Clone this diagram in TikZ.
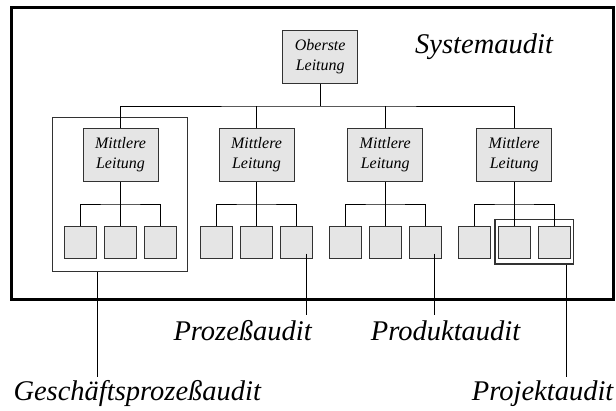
\documentclass[tikz,border=0pt]{standalone}
\usepackage{fontspec}
\setmainfont{Liberation Serif}
\begin{document}
\definecolor{boxfill}{RGB}{229,229,229}
\definecolor{boxline}{RGB}{50,50,50}
\begin{tikzpicture}[x=1pt,y=-1pt,
  unit/.style={draw=boxline, fill=boxfill, line width=1pt, inner sep=0pt},
  leader/.style={unit, minimum width=75pt, minimum height=53pt, align=center,
    font=\fontsize{16}{20}\selectfont\itshape},
  member/.style={unit, minimum width=32pt, minimum height=32pt},
  groupframe/.style={draw=boxline, line width=1.3pt, inner sep=0pt},
  wire/.style={draw=black, line width=0.9pt},
  audit/.style={anchor=base west, inner sep=0pt, font=\fontsize{28.5}{34}\selectfont\itshape}]
\useasboundingbox (0,0) rectangle (616,410);

% outer frame of the system audit
\draw[line width=3pt] (11.5,7.5) rectangle (613.5,299.5);
\node[audit] (sys) at (415,53.3) {Systemaudit};

% frames marking business-process and project audits
\node[groupframe, minimum width=135pt, minimum height=154pt] (g1) at (120.25,194.4) {};
\node[groupframe, minimum width=78.5pt, minimum height=44.7pt] (g4) at (534.25,241.65) {};

% top management
\node[leader] (top) at (320.2,57) {Oberste\\Leitung};

% middle management
\foreach \i/\cx in {1/120.5, 2/256.5, 3/385.2, 4/514.2} {
  \node[leader] (m\i) at (\cx,155) {Mittlere\\Leitung};
  \node[member] (b\i1) at (\cx-40,242.5) {};
  \node[member] (b\i2) at (\cx,242.5) {};
  \node[member] (b\i3) at (\cx+40,242.5) {};
  \coordinate (s\i) at (\cx,204);
  \draw[wire] (m\i.south) -- (s\i);
  \draw[wire] (b\i1.north) |- (s\i) -| (b\i3.north);
  \draw[wire] (s\i) -- (b\i2.north);
}

% bus from top management to middle management
\coordinate (bus) at (320.2,106);
\draw[wire] (top.south) -- (bus);
\draw[wire] (m1.north) |- (bus) -| (m4.north);
\draw[wire] (m2.north) -- (m2.north |- bus);
\draw[wire] (m3.north) -- (m3.north |- bus);

% audit labels and their leader lines
\node[audit] (lg) at (13.3,400) {Geschäftsprozeßaudit};
\node[audit] (lp) at (173.3,340) {Prozeßaudit};
\node[audit] (ld) at (370.7,340) {Produktaudit};
\node[audit] (lj) at (471.7,400) {Projektaudit};

\coordinate (eg) at (97.5,377);
\coordinate (ep) at (306,315);
\coordinate (ed) at (434.5,315);
\coordinate (ej) at (566.7,377);

\draw[wire] (g1.south -| eg) -- (eg);
\draw[wire] ([yshift=5.3pt]b23.south -| ep) -- (ep);
\draw[wire] ([yshift=5.3pt]b33.south -| ed) -- (ed);
\draw[wire] (g4.south -| ej) -- (ej);
\end{tikzpicture}
\end{document}
